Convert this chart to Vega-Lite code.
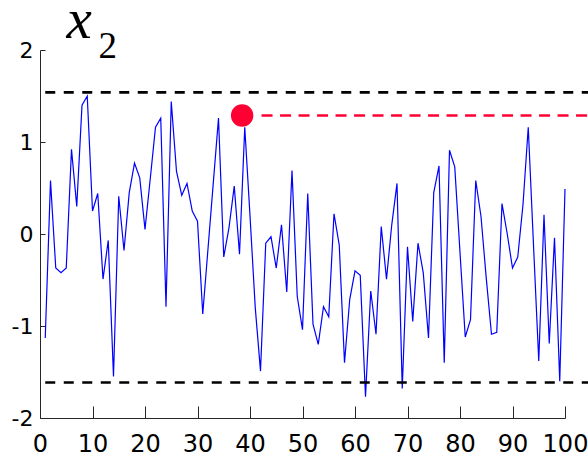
{
  "$schema": "https://vega.github.io/schema/vega-lite/v6.json",
  "autosize": "none",
  "width": 525,
  "height": 368,
  "padding": {"left": 40, "top": 50, "right": 23, "bottom": 37},
  "background": "white",
  "config": {"view": {"stroke": null}},
  "datasets": {
    "series": [
      {"t":1,"v":-1.13},{"t":2,"v":0.58},{"t":3,"v":-0.37},{"t":4,"v":-0.42},{"t":5,"v":-0.37},
      {"t":6,"v":0.92},{"t":7,"v":0.30},{"t":8,"v":1.40},{"t":9,"v":1.50},{"t":10,"v":0.25},
      {"t":11,"v":0.44},{"t":12,"v":-0.49},{"t":13,"v":-0.07},{"t":14,"v":-1.55},{"t":15,"v":0.41},
      {"t":16,"v":-0.18},{"t":17,"v":0.45},{"t":18,"v":0.77},{"t":19,"v":0.61},{"t":20,"v":0.05},
      {"t":21,"v":0.60},{"t":22,"v":1.16},{"t":23,"v":1.26},{"t":24,"v":-0.79},{"t":25,"v":1.44},
      {"t":26,"v":0.68},{"t":27,"v":0.42},{"t":28,"v":0.55},{"t":29,"v":0.25},{"t":30,"v":0.14},
      {"t":31,"v":-0.87},{"t":32,"v":-0.16},{"t":33,"v":0.55},{"t":34,"v":1.26},{"t":35,"v":-0.25},
      {"t":36,"v":0.07},{"t":37,"v":0.52},{"t":38,"v":-0.22},{"t":39,"v":1.16},{"t":40,"v":0.20},
      {"t":41,"v":-0.80},{"t":42,"v":-1.49},{"t":43,"v":-0.10},{"t":44,"v":-0.03},{"t":45,"v":-0.37},
      {"t":46,"v":0.10},{"t":47,"v":-0.63},{"t":48,"v":0.69},{"t":49,"v":-0.68},{"t":50,"v":-1.04},
      {"t":51,"v":0.44},{"t":52,"v":-0.98},{"t":53,"v":-1.20},{"t":54,"v":-0.79},{"t":55,"v":-0.90},
      {"t":56,"v":0.22},{"t":57,"v":-0.12},{"t":58,"v":-1.40},{"t":59,"v":-0.71},{"t":60,"v":-0.40},
      {"t":61,"v":-0.45},{"t":62,"v":-1.77},{"t":63,"v":-0.62},{"t":64,"v":-1.09},{"t":65,"v":0.08},
      {"t":66,"v":-0.49},{"t":67,"v":0.10},{"t":68,"v":0.55},{"t":69,"v":-1.68},{"t":70,"v":-0.14},
      {"t":71,"v":-0.95},{"t":72,"v":-0.10},{"t":73,"v":-0.42},{"t":74,"v":-1.13},{"t":75,"v":0.45},
      {"t":76,"v":0.74},{"t":77,"v":-1.40},{"t":78,"v":0.91},{"t":79,"v":0.73},{"t":80,"v":-0.20},
      {"t":81,"v":-1.12},{"t":82,"v":-0.93},{"t":83,"v":0.58},{"t":84,"v":0.19},{"t":85,"v":-0.48},
      {"t":86,"v":-1.09},{"t":87,"v":-1.07},{"t":88,"v":0.33},{"t":89,"v":0.00},{"t":90,"v":-0.37},
      {"t":91,"v":-0.25},{"t":92,"v":0.32},{"t":93,"v":1.16},{"t":94,"v":-0.12},{"t":95,"v":-1.38},
      {"t":96,"v":0.21},{"t":97,"v":-1.19},{"t":98,"v":-0.04},{"t":99,"v":-1.60},{"t":100,"v":0.49}
    ],
    "limits": [
      {"level": 1.539, "from": 1, "to": 104.4},
      {"level": -1.614, "from": 1, "to": 104.4}
    ],
    "peakline": [
      {"level": 1.288, "from": 42.2, "to": 104.4}
    ],
    "peak": [
      {"t": 38.5, "v": 1.288}
    ]
  },
  "layer": [
    {
      "data": {"name": "series"},
      "mark": {"type": "line", "color": "#0000ff", "strokeWidth": 1.2},
      "encoding": {
        "x": {
          "field": "t", "type": "quantitative",
          "scale": {"domain": [0, 100], "nice": false, "zero": false},
          "axis": {
            "title": "x",
            "titleFont": "Liberation Serif",
            "titleFontSize": 57,
            "titleFontStyle": "italic",
            "titleFontWeight": "normal",
            "titleColor": "black",
            "titleAlign": "left",
            "titleBaseline": "alphabetic",
            "titleAnchor": "start",
            "titleX": 26,
            "titleY": -381,
            "values": [0,10,20,30,40,50,60,70,80,90,100],
            "grid": false,
            "domainColor": "#262626",
            "tickColor": "#262626",
            "tickSize": -12,
            "labelFont": "DejaVu Sans",
            "labelFontSize": 24,
            "labelColor": "black",
            "labelPadding": 26,
            "labelFlush": false,
            "labelOverlap": false,
            "encode": {"labels": {"update": {"dy": {"signal": "datum.value == 50 ? 5 : datum.value == 60 ? -3 : 0"}}}}
          }
        },
        "y": {
          "field": "v", "type": "quantitative",
          "scale": {"domain": [-2, 2], "nice": false, "zero": false},
          "axis": {
            "title": "2",
            "titleFont": "Liberation Serif",
            "titleFontSize": 37,
            "titleFontWeight": "normal",
            "titleFontStyle": "normal",
            "titleColor": "black",
            "titleAngle": 0,
            "titleAlign": "left",
            "titleBaseline": "alphabetic",
            "titleX": 58,
            "titleY": 7,
            "values": [-2,-1,0,1,2],
            "grid": false,
            "domainColor": "#262626",
            "tickColor": "#262626",
            "tickSize": -5,
            "labelFont": "DejaVu Sans",
            "labelFontSize": 22,
            "labelColor": "black",
            "labelPadding": 12,
            "labelFlush": false,
            "labelOverlap": false,
            "labelExpr": "'' + datum.value"
          }
        }
      }
    },
    {
      "data": {"name": "limits"},
      "mark": {"type": "rule", "color": "black", "strokeWidth": 2.6, "strokeDash": [10, 8.5]},
      "encoding": {
        "x": {"field": "from", "type": "quantitative"},
        "x2": {"field": "to"},
        "y": {"field": "level", "type": "quantitative"}
      }
    },
    {
      "data": {"name": "peakline"},
      "mark": {"type": "rule", "color": "#ff0033", "strokeWidth": 2.4, "strokeDash": [11, 7.5]},
      "encoding": {
        "x": {"field": "from", "type": "quantitative"},
        "x2": {"field": "to"},
        "y": {"field": "level", "type": "quantitative"}
      }
    },
    {
      "data": {"name": "peak"},
      "mark": {"type": "point", "filled": true, "color": "#ff0033", "opacity": 1, "size": 500, "shape": "circle"},
      "encoding": {
        "x": {"field": "t", "type": "quantitative"},
        "y": {"field": "v", "type": "quantitative"}
      }
    }
  ]
}
